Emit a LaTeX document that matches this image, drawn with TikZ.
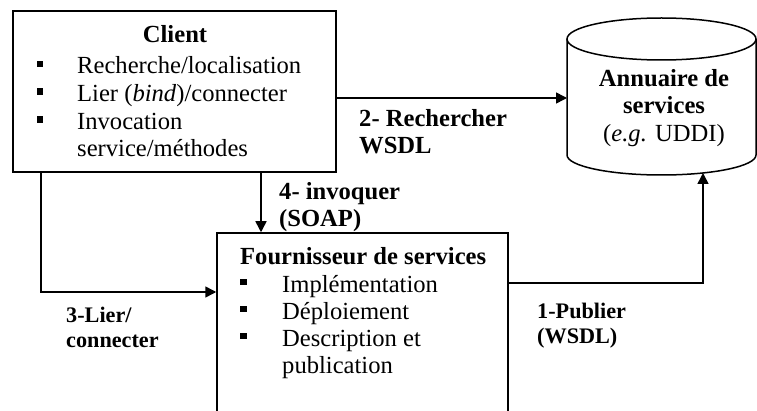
\documentclass[tikz,border=0pt]{standalone}
\usepackage{fontspec}
\setmainfont{Liberation Serif}
\usetikzlibrary{arrows.meta,calc}
\begin{document}
\begin{tikzpicture}[x=1pt,y=1pt,
  line/.style={line width=1.5pt},
  arr/.style={line width=1.5pt,-{Triangle[length=11pt,width=11pt]}},
  txt/.style={inner sep=0pt,anchor=base west,font=\fontsize{24.6pt}{27.7pt}\selectfont},
  btxt/.style={txt,font=\fontsize{24.6pt}{27.7pt}\selectfont\bfseries},
  sbtxt/.style={txt,font=\fontsize{22.2pt}{25pt}\selectfont\bfseries},
  ctxt/.style={txt,anchor=base},
  cbtxt/.style={btxt,anchor=base},
  bul/.style={fill=black,inner sep=0pt,minimum size=6.5pt},
  box/.style={draw,line width=1.5pt,inner sep=0pt}]
\useasboundingbox (0,0) rectangle (757,410);
\clip (0,0) rectangle (757,410);
% Client box
\node[box,minimum width=323pt,minimum height=161pt] (client) at (174.5,318.5) {};
\node[cbtxt] (ct) at (175,367) {Client};
\node[bul] (cb1) at (40,346) {};
\node[txt] (c1) at (77,336) {Recherche/localisation};
\node[bul] (cb2) at (40,318.5) {};
\node[txt] (c2) at (77,308.5) {Lier (\textit{bind})/connecter};
\node[bul] (cb3) at (40,290.5) {};
\node[txt] (c3) at (77,280.5) {Invocation};
\node[txt] (c4) at (77,253) {service/méthodes};
% Provider box
\node[box,minimum width=291pt,minimum height=190pt] (prov) at (362.5,82) {};
\node[btxt] (pt) at (240,146) {Fournisseur de services};
\node[bul] (pb1) at (243.5,128) {};
\node[txt] (p1) at (282,118) {Implémentation};
\node[bul] (pb2) at (243.5,101) {};
\node[txt] (p2) at (282,91) {Déploiement};
\node[bul] (pb3) at (243.5,74) {};
\node[txt] (p3) at (282,64) {Description et};
\node[txt] (p4) at (282,37) {publication};
% Directory cylinder
\draw[line] (567,371) -- (567,255) arc[start angle=180,end angle=360,x radius=94.5pt,y radius=20pt] -- (756,371);
\draw[line] (661.5,371) ellipse[x radius=94.5pt,y radius=21pt];
\node[cbtxt] (d1) at (664,323) {Annuaire de};
\node[cbtxt] (d2) at (664,296) {services};
\node[ctxt] (d3) at (664,268) {(\textit{e.g.} UDDI)};
% connectors
\coordinate (e2) at (567,312);
\draw[arr] (e2 -| client.east) -- (e2);
\coordinate (x4) at (261,0);
\draw[arr] (x4 |- client.south) -- (x4 |- prov.north);
\coordinate (j3) at (41,118);
\draw[arr] (j3 |- client.south) |- (j3 -| prov.west);
\coordinate (y1) at (0,127);
\coordinate (e1) at (703,237);
\draw[arr] (y1 -| prov.east) -| (e1);
% labels
\node[btxt] (l2a) at (359,283) {2- Rechercher};
\node[btxt] (l2b) at (359,256) {WSDL};
\node[btxt] (l4a) at (279,210) {4- invoquer};
\node[btxt] (l4b) at (279,183) {(SOAP)};
\node[sbtxt] (l3a) at (66,88) {3-Lier/};
\node[sbtxt] (l3b) at (66,63) {connecter};
\node[sbtxt] (l1a) at (537,92) {1-Publier};
\node[sbtxt] (l1b) at (537,67) {(WSDL)};
\end{tikzpicture}
\end{document}
